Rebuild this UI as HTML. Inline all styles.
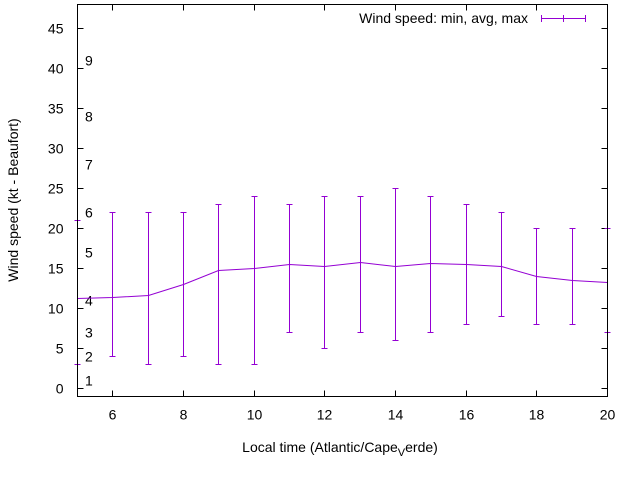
<!DOCTYPE html>
<html><head><meta charset="utf-8"><style>
body{margin:0;background:#fff;}
svg{display:block;font-family:"Liberation Sans",sans-serif;}
</style></head><body>
<svg id="c" width="640" height="480"></svg>
<script>
const hours=[5,6,7,8,9,10,11,12,13,14,15,16,17,18,19,20];
const avgSpeed=[11.2,11.4,11.6,13,14.7,15,15.5,15.3,15.8,15.3,15.6,15.5,15.3,14,13.5,13.2];
const minSpeed=[3,4,3,4,3,3,7,5,7,6,7,8,9,8,8,7];
const maxSpeed=[21,22,22,22,23,24,23,24,24,25,24,23,22,20,20,20];
const xTicks=[6,8,10,12,14,16,18,20];
const yTicks=[0,5,10,15,20,25,30,35,40,45];
const beaufortLabels=["1","2","3","4","5","6","7","8","9"];
const beaufortPos=[1,4,7,11,17,22,28,34,41];
const L=77.5,R=607.5,T=4.5,B=396.5,X0=5,X1=20,Y0=-1,Y1=48;
const sx=v=>Math.round(L+(v-X0)/(X1-X0)*(R-L)-0.5)+0.5;
const sy=v=>Math.round(B-(v-Y0)/(Y1-Y0)*(B-T)-0.5)+0.5;
const svg=document.getElementById('c');const NS='http://www.w3.org/2000/svg';
function mk(t,a,p){const e=document.createElementNS(NS,t);for(const k in a)e.setAttribute(k,a[k]);(p||svg).appendChild(e);return e;}
yTicks.forEach(v=>{const y=sy(v);
 let t=mk('line',{x1:L,x2:L+6,y1:y,y2:y,stroke:'#000','shape-rendering':'crispEdges'});
 
 
 let t2=mk('line',{x1:R-6,x2:R,y1:y,y2:y,stroke:'#000','shape-rendering':'crispEdges'});
 
 
 let l=mk('text',{x:L-14,y:y+5,'text-anchor':'end','font-size':14});l.textContent=v;
 
 });
xTicks.forEach(v=>{const x=sx(v);
 let t=mk('line',{x1:x,x2:x,y1:B,y2:B-6,stroke:'#000','shape-rendering':'crispEdges'});
 
 
 let t2=mk('line',{x1:x,x2:x,y1:T,y2:T+6,stroke:'#000','shape-rendering':'crispEdges'});
 
 
 let l=mk('text',{x:x,y:B+23,'text-anchor':'middle','font-size':14});l.textContent=v;
 
 });
beaufortLabels.forEach((s,i)=>{let l=mk('text',{x:85,y:sy(beaufortPos[i])+5,'font-size':14});l.textContent=s;
 
 });
const col='#9400d3';
hours.forEach((h,i)=>{const x=sx(h);
 let v=mk('path',{d:`M${x},${sy(minSpeed[i])}V${sy(maxSpeed[i])}M${x-3},${sy(minSpeed[i])}h6M${x-3},${sy(maxSpeed[i])}h6`,stroke:col,fill:'none','stroke-width':1,'shape-rendering':'crispEdges'});
 
 });
let d=hours.map((h,i)=>(i?'L':'M')+sx(h)+','+sy(avgSpeed[i])).join('');
let p=mk('path',{d:d,stroke:col,fill:'none','stroke-width':1});


let e=mk('rect',{x:L,y:T,width:R-L,height:B-T,fill:'none',stroke:'#000','stroke-width':1,'shape-rendering':'crispEdges'});


let lt=mk('text',{x:528,y:23,'text-anchor':'end','font-size':14});lt.textContent='Wind speed: min, avg, max';


let lg=mk('path',{d:'M541,18.5H585M541.5,15v7M585.5,15v7M563.5,15v7',stroke:col,fill:'none','shape-rendering':'crispEdges'});


let xt=mk('text',{x:340,y:452,'text-anchor':'middle','font-size':14});
xt.innerHTML='Local time (Atlantic/Cape<tspan font-size="11" dy="4">V</tspan><tspan dy="-4">erde)</tspan>';


let yt=mk('text',{x:0,y:0,'text-anchor':'middle','font-size':14,transform:'translate(18,200) rotate(-90)'});
yt.textContent='Wind speed (kt - Beaufort)';


</script>
</body></html>
